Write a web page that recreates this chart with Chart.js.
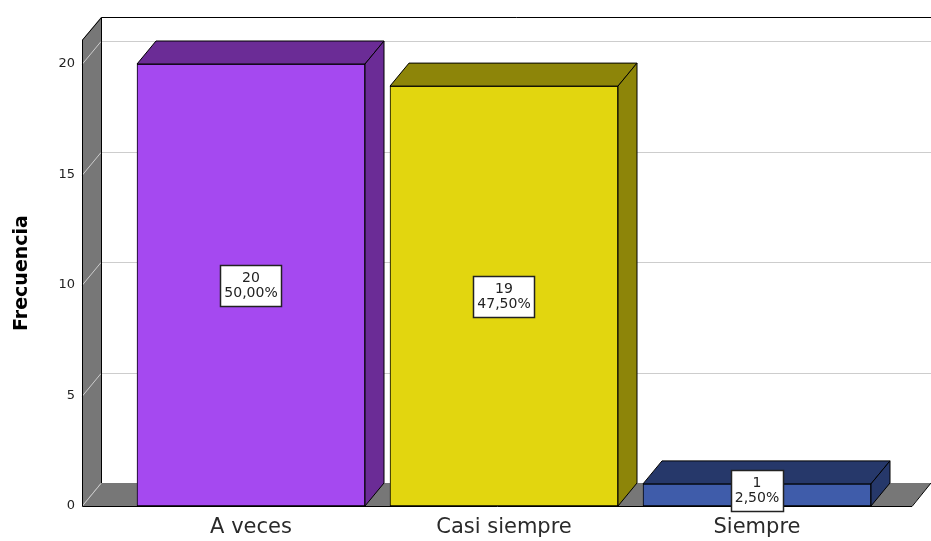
<!DOCTYPE html>
<html>
<head>
<meta charset="utf-8">
<script src="https://cdn.jsdelivr.net/npm/chart.js@4.4.1/dist/chart.umd.min.js"></script>
<style>
    body { margin: 0; background: #fff; }
    #wrap { width: 931px; height: 541px; }
</style>
</head>
<body>
<div id="wrap"><canvas id="freq-chart"></canvas></div>
<script>
// Data
var categories = ['A veces', 'Casi siempre', 'Siempre'];
var frequencies = [20, 19, 1];
var yTicks = [0, 5, 10, 15, 20];

var frontColors = ['rgb(165, 73, 240)', 'rgb(226, 214, 15)', 'rgb(63, 92, 170)'];
var darkColors = ['rgb(107, 44, 150)', 'rgb(141, 133, 9)', 'rgb(38, 56, 106)'];

var depthX = 19, depthY = -23;
var fontFamily = 'DejaVu Sans';

var total = frequencies.reduce(function(a, b) { return a + b; }, 0);

function percentText(v) {
    return (v / total * 100).toFixed(2).replace('.', ',') + '%';
}

function poly(ctx, pts, fill, stroke) {
    ctx.beginPath();
    ctx.moveTo(pts[0][0], pts[0][1]);
    for (var i = 1; i < pts.length; i++) ctx.lineTo(pts[i][0], pts[i][1]);
    ctx.closePath();
    if (fill) { ctx.fillStyle = fill; ctx.fill(); }
    if (stroke) { ctx.strokeStyle = stroke; ctx.lineWidth = 1; ctx.stroke(); }
}

/* Back wall, side wall, floor and grid */
var wallsPlugin = {
    id: 'walls',
    beforeDatasetsDraw: function(chart) {
        var ctx = chart.ctx;
        var area = chart.chartArea;
        var y = chart.scales.y;
        var zero = y.getPixelForValue(0);
        var top = area.top, L = area.left, R = area.right;

        ctx.save();
        ctx.fillStyle = '#fff';
        ctx.fillRect(L + depthX, top + depthY, R - L, zero - top);

        poly(ctx, [[L, top], [L + depthX, top + depthY], [L + depthX, zero + depthY], [L, zero]], 'rgb(119,119,119)');
        poly(ctx, [[L, zero], [L + depthX, zero + depthY], [R + depthX, zero + depthY], [R, zero]], 'rgb(119,119,119)');

        ctx.strokeStyle = 'rgb(205,205,205)';
        ctx.lineWidth = 1;
        yTicks.forEach(function(v) {
            var py = Math.round(y.getPixelForValue(v)) + 0.5;
            ctx.beginPath();
            ctx.moveTo(L, py);
            ctx.lineTo(L + depthX, py + depthY);
            if (v > 0) ctx.lineTo(R + depthX, py + depthY);
            ctx.stroke();
        });

        ctx.strokeStyle = '#000';
        ctx.beginPath();
        ctx.moveTo(L + depthX + 0.5, zero + depthY);
        ctx.lineTo(L + depthX + 0.5, top + depthY + 0.5);
        ctx.lineTo(R + depthX + 20, top + depthY + 0.5);
        ctx.moveTo(L + depthX + 0.5, top + depthY + 0.5);
        ctx.lineTo(L + 0.5, top);
        ctx.lineTo(L + 0.5, zero + 0.5);
        ctx.lineTo(R, zero + 0.5);
        ctx.lineTo(R + depthX, zero + depthY);
        ctx.stroke();
        ctx.restore();
    }
};

/* Top and side faces of the bars, plus value boxes */
var barsPlugin = {
    id: 'bars3d',
    afterDatasetsDraw: function(chart) {
        var ctx = chart.ctx;
        var meta = chart.getDatasetMeta(0);
        ctx.save();
        meta.data.forEach(function(bar, i) {
            var p = bar.getProps(['x', 'y', 'base', 'width'], true);
            var left = p.x - p.width / 2, right = p.x + p.width / 2;
            poly(ctx, [[left, p.y], [left + depthX, p.y + depthY], [right + depthX, p.y + depthY], [right, p.y]], darkColors[i], '#000');
            poly(ctx, [[right, p.y], [right + depthX, p.y + depthY], [right + depthX, p.base + depthY], [right, p.base]], darkColors[i], '#000');
        });

        ctx.font = '14px "' + fontFamily + '"';
        ctx.textAlign = 'center';
        ctx.textBaseline = 'middle';
        meta.data.forEach(function(bar, i) {
            var p = bar.getProps(['x', 'y', 'base'], true);
            var l1 = String(frequencies[i]), l2 = percentText(frequencies[i]);
            var w = Math.max(ctx.measureText(l1).width, ctx.measureText(l2).width) + 8;
            var h = 41;
            var cy = (p.y + p.base) / 2;
            if (h > p.base - p.y) cy = p.base - h / 2 + 5;
            var bx = Math.round(p.x - w / 2) + 0.5, by = Math.round(cy - h / 2) + 0.5;
            ctx.fillStyle = '#fff';
            ctx.fillRect(bx, by, Math.round(w), h);
            ctx.strokeStyle = '#222';
            ctx.lineWidth = 1.5;
            ctx.strokeRect(bx, by, Math.round(w), h);
            ctx.fillStyle = '#222';
            ctx.fillText(l1, p.x, cy - 7);
            ctx.fillText(l2, p.x, cy + 8);
        });
        ctx.restore();
    }
};

function init() {
    var ctx = document.getElementById('freq-chart').getContext('2d');

    // category i sits at pixel 251 + 253*i, plot runs from 82 to 912
    var xMin = -0.668;
    var xMax = xMin + 830 / 253;

    new Chart(ctx, {
        type: 'bar',
        data: {
            datasets: [{
                data: frequencies.map(function(v, i) { return { x: i, y: v }; }),
                backgroundColor: frontColors,
                borderColor: '#000',
                borderWidth: 1,
                borderSkipped: false,
                barThickness: 228
            }]
        },
        options: {
            responsive: true,
            maintainAspectRatio: false,
            animation: false,
            layout: { padding: { top: 40, right: 19, left: 0, bottom: 0 } },
            plugins: { legend: { display: false }, tooltip: { enabled: false } },
            scales: {
                x: {
                    type: 'linear',
                    offset: false,
                    min: xMin,
                    max: xMax,
                    grid: { display: false, drawTicks: false },
                    border: { display: false },
                    afterBuildTicks: function(s) {
                        s.ticks = categories.map(function(c, i) { return { value: i }; });
                    },
                    ticks: {
                        callback: function(v) { return categories[v]; },
                        font: { family: fontFamily, size: 21 },
                        color: '#2a2a2a',
                        padding: 9,
                        maxRotation: 0,
                        autoSkip: false
                    },
                    afterFit: function(s) { s.height = 35; }
                },
                y: {
                    min: 0,
                    max: 466 / 22.1,
                    grid: { display: false, drawTicks: false },
                    border: { display: false },
                    afterBuildTicks: function(s) {
                        s.ticks = yTicks.map(function(v) { return { value: v }; });
                    },
                    ticks: {
                        font: { family: fontFamily, size: 13 },
                        color: '#222',
                        padding: 7
                    },
                    title: {
                        display: true,
                        text: 'Frecuencia',
                        font: { family: fontFamily, size: 19, weight: 'bold' },
                        color: '#000',
                        padding: { top: 11, bottom: 0 }
                    },
                    afterFit: function(s) { s.width = 82; }
                }
            }
        },
        plugins: [wallsPlugin, barsPlugin]
    });
}

init();
</script>
</body>
</html>
